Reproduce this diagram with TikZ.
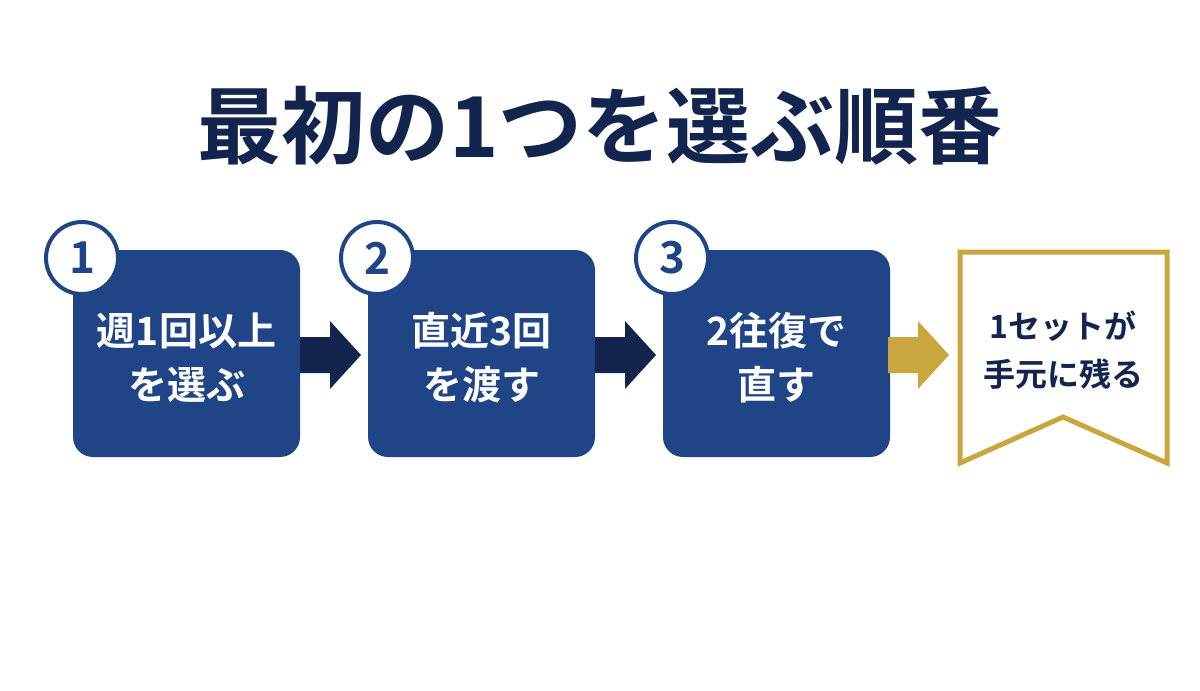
\documentclass[tikz,border=0pt]{standalone}
\usepackage{fontspec}
\newfontfamily\jp[BoldFont={Noto Sans CJK JP Bold}]{Noto Sans CJK JP}
\definecolor{navy}{HTML}{1F4587}
\definecolor{dnavy}{HTML}{13244F}
\definecolor{gold}{HTML}{C9A73E}
\begin{document}
\begin{tikzpicture}[x=1pt,y=-1pt,
 box/.style={fill=navy,rounded corners=20pt},
 lbl/.style={text=white,font=\jp\bfseries\fontsize{39}{54}\selectfont,align=center},
 num/.style={circle,draw=navy,line width=4pt,fill=white,minimum size=72pt,inner sep=0pt,text=navy,font=\jp\bfseries\fontsize{44}{44}\selectfont}]
\useasboundingbox (0,0) rectangle (1200,691);
\fill[white] (0,0) rectangle (1200,691);
\node[font=\jp\bfseries\fontsize{84}{84}\selectfont,text=dnavy] (title) at (600,126) {最初の1つを選ぶ順番};
\foreach \i/\x/\t in {1/73/{週1回以上\\を選ぶ},2/368/{直近3回\\を渡す},3/663/{2往復で\\直す}}{
 \fill[box] (\x,250) rectangle ++(227,207);
 \node[lbl] (b\i) at (\x+113.5,358) {\t};
 \node[num] (n\i) at (\x+9,258) {\i};
}
\foreach \x/\c in {300/dnavy,595/dnavy,888/gold}{
 \fill[\c] (\x,337) -- (\x+30,337) -- (\x+30,321) -- (\x+61,355) -- (\x+30,389) -- (\x+30,373) -- (\x,373) -- cycle;
}
\draw[gold,line width=5pt] (960,252) -- (1167,252) -- (1167,463) -- (1063,417) -- (960,463) -- cycle;
\node[font=\jp\bfseries\fontsize{32}{48}\selectfont,text=dnavy,align=center] (goal) at (1063,350) {1セットが\\手元に残る};
\end{tikzpicture}
\end{document}
